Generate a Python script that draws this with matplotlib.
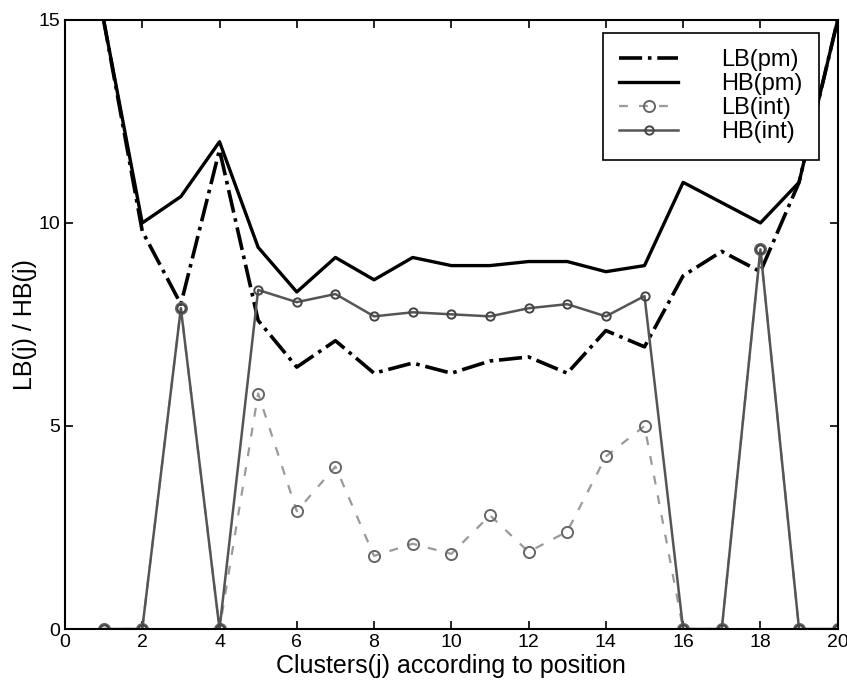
import numpy as np
import matplotlib.pyplot as plt

plt.rcParams['font.family'] = ['Liberation Sans', 'DejaVu Sans']

clusters = list(range(1, 21))
lb_pm = [15, 9.8, 8.0, 11.8, 7.6, 6.45, 7.1, 6.3, 6.55, 6.3,
         6.6, 6.7, 6.3, 7.35, 6.95, 8.7, 9.3, 8.8, 11.0, 15]
hb_pm = [15, 10.0, 10.65, 12.0, 9.4, 8.3, 9.15, 8.6, 9.15, 8.95,
         8.95, 9.05, 9.05, 8.8, 8.95, 11.0, 10.5, 10.0, 11.0, 15]
lb_int = [0, 0, 7.9, 0, 5.8, 2.9, 4.0, 1.8, 2.1, 1.85,
          2.8, 1.9, 2.4, 4.25, 5.0, 0, 0, 9.35, 0, 0]
hb_int = [0, 0, 7.9, 0, 8.35, 8.05, 8.25, 7.7, 7.8, 7.75,
          7.7, 7.9, 8.0, 7.7, 8.2, 0, 0, 9.35, 0, 0]

fig = plt.figure(figsize=(8.47, 6.87), dpi=100)
ax = fig.add_axes([0.0767, 0.0844, 0.9123, 0.8866])

ax.plot(clusters, lb_pm, color='black', linestyle='-.', linewidth=2.6, label='LB(pm)')
ax.plot(clusters, hb_pm, color='black', linestyle='-', linewidth=2.4, label='HB(pm)')
ax.plot(clusters, lb_int, color='#9a9a9a', linestyle=(0, (4, 5)), linewidth=1.6,
        marker='o', markersize=8, markerfacecolor='none', markeredgecolor='#666666',
        markeredgewidth=1.4, label='LB(int)')
ax.plot(clusters, hb_int, color='#555555', linestyle='-', linewidth=1.8,
        marker='o', markersize=6, markerfacecolor='none', markeredgecolor='#444444',
        markeredgewidth=1.4, label='HB(int)')

ax.set_xlim(0, 20)
ax.set_ylim(0, 15)
ax.set_xticks(np.arange(0, 21, 2))
ax.set_yticks([0, 5, 10, 15])
ax.tick_params(direction='in', top=True, right=True, labelsize=14, length=6, width=1.2)
for s in ax.spines.values():
    s.set_linewidth(1.5)

ax.set_xlabel('Clusters(j) according to position', fontsize=18, labelpad=2)
ax.set_ylabel('LB(j) / HB(j)', fontsize=18)
ax.yaxis.set_label_coords(-0.036, 0.5)

leg = ax.legend(loc='upper right', bbox_to_anchor=(0.9754, 0.9787), fontsize=17,
                handlelength=2.5, fancybox=False, framealpha=1,
                edgecolor='black', borderpad=0.7, labelspacing=0.08, handletextpad=1.8,
                borderaxespad=0)
leg.get_frame().set_linewidth(1.2)

fig.savefig('out.png', dpi=100)
